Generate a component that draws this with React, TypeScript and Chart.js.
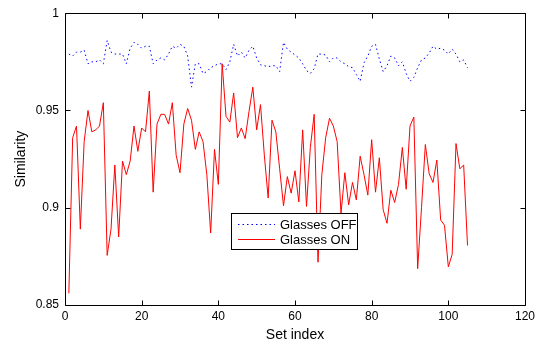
import React, { useEffect, useRef } from "react";
import { Chart, registerables } from "chart.js";

Chart.register(...registerables);

const glassesOn: number[] = [
  0.856, 0.936, 0.942, 0.889, 0.934, 0.95, 0.939, 0.94, 0.942, 0.954,
  0.8755, 0.889, 0.922, 0.885, 0.924, 0.917, 0.924, 0.942, 0.929, 0.941,
  0.939, 0.96, 0.908, 0.943, 0.948, 0.948, 0.943, 0.954, 0.927, 0.918,
  0.943, 0.951, 0.945, 0.93, 0.939, 0.934, 0.917, 0.887, 0.93, 0.912,
  0.974, 0.947, 0.944, 0.959, 0.936, 0.941, 0.9355, 0.9495, 0.962, 0.94,
  0.953, 0.927, 0.905, 0.945, 0.939, 0.92, 0.901, 0.916, 0.9075, 0.919,
  0.903, 0.94, 0.9007, 0.931, 0.948, 0.872, 0.917, 0.936, 0.946, 0.942,
  0.934, 0.897, 0.918, 0.9015, 0.913, 0.904, 0.9265, 0.917, 0.9065, 0.935,
  0.908, 0.9257, 0.899, 0.892, 0.909, 0.9027, 0.912, 0.931, 0.9095, 0.942,
  0.9466, 0.8687, 0.9, 0.9325, 0.9175, 0.913, 0.9245, 0.8937, 0.891, 0.8696,
  0.876, 0.933, 0.92, 0.922, 0.8806,
];

const glassesOff: number[] = [
  0.979, 0.978, 0.98, 0.98, 0.981, 0.974, 0.975, 0.975, 0.976, 0.974,
  0.986, 0.98, 0.979, 0.979, 0.979, 0.974, 0.982, 0.985, 0.984, 0.982,
  0.983, 0.983, 0.974, 0.976, 0.977, 0.976, 0.979, 0.983, 0.982, 0.984,
  0.983, 0.978, 0.962, 0.974, 0.974, 0.969, 0.97, 0.972, 0.973, 0.974,
  0.974, 0.971, 0.975, 0.984, 0.978, 0.98, 0.977, 0.981, 0.983, 0.977,
  0.9735, 0.973, 0.9725, 0.973, 0.973, 0.97, 0.985, 0.9815, 0.98, 0.9785,
  0.977, 0.974, 0.9705, 0.969, 0.9715, 0.979, 0.979, 0.9785, 0.975, 0.977,
  0.977, 0.975, 0.974, 0.9725, 0.972, 0.9685, 0.965, 0.9745, 0.978, 0.983,
  0.984, 0.9765, 0.97, 0.973, 0.978, 0.977, 0.973, 0.975, 0.969, 0.965,
  0.967, 0.972, 0.976, 0.977, 0.9795, 0.983, 0.9815, 0.982, 0.981, 0.979,
  0.9815, 0.979, 0.975, 0.976, 0.972,
];

const seriesLabels = ["Glasses OFF", "Glasses ON"];
const xTitle = "Set index";
const yTitle = "Similarity";
const yTickLabels: Record<string, string> = { "1": "1", "0.95": "0.95", "0.9": "0.9", "0.85": "0.85" };

const FONT = "'Liberation Sans', Arial, Helvetica, sans-serif";

const boxPlugin = {
  id: "matlabBox",
  afterDatasetsDraw(chart: any) {
    const { ctx, chartArea: a, scales } = chart;
    ctx.save();
    ctx.strokeStyle = "#000";
    ctx.lineWidth = 1;
    ctx.setLineDash([]);
    ctx.beginPath();
    const L = Math.round(a.left) + 0.5;
    const R = Math.round(a.right) + 0.5;
    const T = Math.round(a.top) + 0.5;
    const B = Math.round(a.bottom) + 0.5;
    ctx.rect(L, T, R - L, B - T);
    const tl = 5;
    scales.x.ticks.forEach((t: any) => {
      const px = Math.round(scales.x.getPixelForValue(t.value)) + 0.5;
      ctx.moveTo(px, B);
      ctx.lineTo(px, B - tl);
      ctx.moveTo(px, T);
      ctx.lineTo(px, T + tl);
    });
    scales.y.ticks.forEach((t: any) => {
      const py = Math.round(scales.y.getPixelForValue(t.value)) + 0.5;
      ctx.moveTo(L, py);
      ctx.lineTo(L + tl, py);
      ctx.moveTo(R, py);
      ctx.lineTo(R - tl, py);
    });
    ctx.stroke();

    // legend box
    const bx = 231.5, by = 213.5, bw = 126, bh = 36;
    ctx.fillStyle = "#fff";
    ctx.fillRect(bx, by, bw, bh);
    ctx.strokeRect(bx, by, bw, bh);
    const ds = chart.data.datasets;
    const rows = [224, 239];
    ds.forEach((d: any, i: number) => {
      ctx.beginPath();
      ctx.strokeStyle = d.borderColor;
      ctx.lineWidth = d.borderWidth;
      ctx.setLineDash(d.borderDash || []);
      ctx.moveTo(238, rows[i] + 0.5);
      ctx.lineTo(275, rows[i] + 0.5);
      ctx.stroke();
      ctx.setLineDash([]);
      ctx.fillStyle = "#000";
      ctx.font = `13px ${FONT}`;
      ctx.textBaseline = "middle";
      ctx.textAlign = "left";
      ctx.fillText(d.label, 280, rows[i] + 1);
    });
    ctx.restore();
  },
};

export default function App() {
  const ref = useRef<HTMLCanvasElement | null>(null);
  useEffect(() => {
    if (!ref.current) return;
    const xs = glassesOn.map((_, i) => i + 1);
    const chart = new Chart(ref.current, {
      type: "line",
      data: {
        datasets: [
          {
            label: seriesLabels[0],
            data: glassesOff.map((v, i) => ({ x: xs[i], y: v })),
            borderColor: "rgb(0,0,255)",
            borderWidth: 1,
            borderDash: [1.5, 3],
            pointRadius: 0,
            tension: 0,
            fill: false,
          },
          {
            label: seriesLabels[1],
            data: glassesOn.map((v, i) => ({ x: xs[i], y: v })),
            borderColor: "rgb(255,0,0)",
            borderWidth: 1,
            pointRadius: 0,
            tension: 0,
            fill: false,
          },
        ],
      },
      options: {
        animation: false,
        responsive: false,
        devicePixelRatio: 1,
        layout: { padding: { top: 11, right: 18, left: 0, bottom: 0 } },
        plugins: { legend: { display: false }, tooltip: { enabled: false } },
        scales: {
          x: {
            type: "linear",
            min: 0,
            max: 120,
            ticks: {
              stepSize: 20,
              padding: 4,
              color: "#000",
              font: { family: FONT, size: 12 },
              maxRotation: 0,
            },
            grid: { display: false, drawTicks: false },
            border: { display: false },
            title: {
              display: true,
              text: xTitle,
              color: "#000",
              font: { family: FONT, size: 14 },
              padding: { top: 0, bottom: 0 },
            },
            afterFit(s: any) {
              s.height = 39;
            },
          },
          y: {
            type: "linear",
            min: 0.85,
            max: 1,
            ticks: {
              stepSize: 0.05,
              padding: 6,
              color: "#000",
              font: { family: FONT, size: 12 },
              callback: (v: any) => yTickLabels[String(+Number(v).toFixed(2))] ?? String(v),
            },
            grid: { display: false, drawTicks: false },
            border: { display: false },
            title: {
              display: true,
              text: yTitle,
              color: "#000",
              font: { family: FONT, size: 14 },
              padding: { top: 13, bottom: 4 },
            },
            afterFit(s: any) {
              s.width = 65;
            },
          },
        },
      },
      plugins: [boxPlugin],
    });
    return () => chart.destroy();
  }, []);
  return (
    <div style={{ position: "fixed", left: 0, top: 0, width: 543, height: 344, background: "#fff" }}>
      <canvas ref={ref} width={543} height={344} style={{ width: 543, height: 344 }} />
    </div>
  );
}
